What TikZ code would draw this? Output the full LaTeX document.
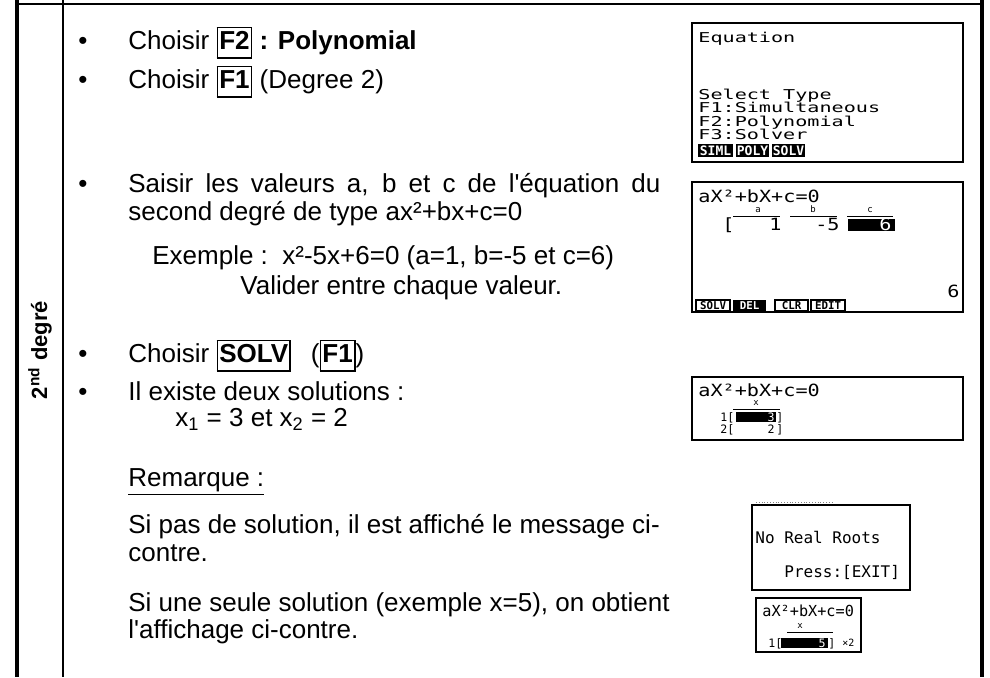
\documentclass[tikz,border=0pt]{standalone}
\usepackage{fontspec}
\setmainfont{Liberation Sans}[Ligatures=TeXOff]
\newfontfamily\lcd{DejaVu Sans Mono}[FakeStretch=1.2]
\newfontfamily\lcds{DejaVu Sans Mono}[FakeStretch=1.48]
\newfontfamily\lcdn{DejaVu Sans Mono}
\newcommand\kbox[1]{{\setlength\fboxsep{0.6pt}\setlength\fboxrule{0.8pt}\fbox{\rule[-0.27em]{0pt}{1.02em}\textbf{#1}}}}
\begin{document}
\begin{tikzpicture}[x=0.5pt,y=-0.5pt,
  txt/.style={anchor=base west, inner sep=0pt, font=\fontsize{13}{15.5}\selectfont},
  bul/.style={anchor=base, inner sep=0pt, font=\fontsize{13}{15.5}\selectfont},
  scr/.style={draw, line width=0.9pt},
  lcdt/.style={anchor=base west, inner sep=0pt, font=\lcd\fontsize{8.4}{8.4}\selectfont},
  lcds/.style={anchor=base west, inner sep=0pt, font=\lcds\fontsize{6.8}{6.8}\selectfont},
  lcdr/.style={anchor=base east, inner sep=0pt, font=\lcd\fontsize{8.4}{8.4}\selectfont},
  lcdw/.style={anchor=base east, inner sep=0pt, text=white, font=\lcd\fontsize{8.4}{8.4}\selectfont},
  rowt/.style={anchor=base west, inner sep=0pt, font=\lcdn\fontsize{5.8}{5.8}\selectfont},
  rowr/.style={anchor=base east, inner sep=0pt, font=\lcdn\fontsize{5.8}{5.8}\selectfont},
  tiny/.style={anchor=base, inner sep=0pt, font=\lcdn\fontsize{4.5}{4.5}\selectfont},
  keyb/.style={fill=black},
  keyt/.style={anchor=center, inner sep=0pt, text=white, font=\lcdn\bfseries\fontsize{6.5}{6.5}\selectfont},
  keyo/.style={draw, line width=0.6pt},
  keyk/.style={anchor=center, inner sep=0pt, font=\lcdn\bfseries\fontsize{5.4}{5.4}\selectfont},
  msg/.style={anchor=base west, inner sep=0pt, font=\lcdn\fontsize{8}{8}\selectfont},
  sm/.style={anchor=base west, inner sep=0pt, font=\lcdn\fontsize{7.6}{7.6}\selectfont},
  rule/.style={line width=0.5pt}]
\useasboundingbox (0,0) rectangle (990,677);
% table frame
\draw[line width=2pt] (17,0) -- (17,677);
\draw[line width=2pt] (982,0) -- (982,677);
\draw[line width=1pt] (63,0) -- (63,677);
\draw[line width=1pt] (17,4) -- (982,4);
\node[rotate=90, inner sep=0pt, font=\bfseries\fontsize{11}{13}\selectfont] (lab) at (40,350) {2\textsuperscript{nd} degré};

% left text
\node[bul] (b1) at (83,49) {•};
\node[txt] (t1) at (128,49) {Choisir \kbox{F2} \textbf{: Polynomial}};
\node[bul] (b2) at (83,88) {•};
\node[txt] (t2) at (128,88) {Choisir \kbox{F1} (Degree 2)};
\node[bul] (b3) at (83,192) {•};
\node[txt] (t3) at (128,192) {\makebox[266pt][s]{Saisir les valeurs a, b et c de l'équation du}};
\node[txt] (t4) at (128,220) {second degré de type ax²+bx+c=0};
\node[txt] (t5) at (152,264) {Exemple :\ \ x²-5x+6=0 (a=1, b=-5 et c=6)};
\node[txt] (t6) at (240,294) {Valider entre chaque valeur.};
\node[bul] (b4) at (83,362) {•};
\node[txt] (t7) at (128,362) {Choisir \kbox{SOLV}\hspace{10pt}(\kbox{F1})};
\node[bul] (b5) at (83,400) {•};
\node[txt] (t8) at (128,400) {Il existe deux solutions :};
\node[txt] (t9) at (175,426) {x\textsubscript{1} = 3 et x\textsubscript{2} = 2};
\node[txt] (t10) at (128,486) {\underline{Remarque :}};
\node[txt] (t11) at (128,533) {Si pas de solution, il est affiché le message ci-};
\node[txt] (t12) at (128,561) {contre.};
\node[txt] (t13) at (128,611) {Si une seule solution (exemple x=5), on obtient};
\node[txt] (t14) at (128,638) {l'affichage ci-contre.};

% screen 1
\draw[scr] (692,23) rectangle (963,162);
\node[lcds] (s1a) at (698,42) {Equation};
\node[lcds] (s1b) at (698,99) {Select Type};
\node[lcds] (s1c) at (698,112.5) {F1:Simultaneous};
\node[lcds] (s1d) at (698,126) {F2:Polynomial};
\node[lcds] (s1e) at (698,139.5) {F3:Solver};
\fill[keyb] (698,144) rectangle (733,157);
\fill[keyb] (736,144) rectangle (769,157);
\fill[keyb] (772,144) rectangle (805,157);
\node[keyt] (k1) at (715.5,150.5) {SIML};
\node[keyt] (k2) at (752.5,150.5) {POLY};
\node[keyt] (k3) at (788.5,150.5) {SOLV};

% screen 2
\draw[scr] (692,182) rectangle (963,312);
\node[lcdt] (s2a) at (698,202) {aX²+bX+c=0};
\node[tiny] (la) at (758,212) {a};
\node[tiny] (lb) at (813,212) {b};
\node[tiny] (lc) at (870,212) {c};
\draw[rule] (733,216) -- (780,216);
\draw[rule] (790,216) -- (837,216);
\draw[rule] (847,216) -- (893,216);
\node[lcdt] (br) at (722,230) {[};
\node[lcdr] (v1) at (782,230) {1};
\node[lcdr] (v2) at (840,230) {-5};
\fill (848,219) rectangle (895,231);
\node[lcdw] (v3) at (892,230) {6};
\node[lcdr] (v4) at (960,297) {6};
\draw[keyo] (696,300) rectangle (730,311);
\fill[keyb] (733,300) rectangle (766,311);
\draw[keyo] (775,300) rectangle (808,311);
\draw[keyo] (811,300) rectangle (845,311);
\node[keyk] (k4) at (713,305.5) {SOLV};
\node[keyt, font=\lcdn\bfseries\fontsize{5.4}{5.4}\selectfont] (k5) at (749.5,305.5) {DEL};
\node[keyk] (k6) at (791.5,305.5) {CLR};
\node[keyk] (k7) at (828,305.5) {EDIT};

% screen 3
\draw[scr] (692,377) rectangle (963,440);
\node[lcdt] (s3a) at (698,396) {aX²+bX+c=0};
\node[tiny] (lx) at (756,405) {x};
\draw[rule] (733,409) -- (780,409);
\node[rowt] (r1) at (720,421) {1[};
\fill (736,412) rectangle (776,422);
\node[rowr, text=white] (r1v) at (775,421) {3};
\node[rowt] (r1e) at (776,421) {]};
\node[rowt] (r2) at (720,433) {2[};
\node[rowr] (r2v) at (775,433) {2};
\node[rowt] (r2e) at (776,433) {]};

% no real roots
\draw[densely dotted, gray] (756,502) -- (832,502);
\draw[line width=1pt] (752,505) rectangle (910,590);
\node[msg] (m1) at (755,543) {No Real Roots};
\node[msg] (m2) at (784,577) {Press:[EXIT]};

% screen 5
\draw[scr] (756,598) rectangle (861,652);
\node[sm] (s5a) at (762,616) {aX²+bX+c=0};
\node[tiny] (lx2) at (800,628) {x};
\draw[rule] (787,632) -- (833,632);
\node[rowt] (q1) at (768,647) {1[};
\fill (781,638) rectangle (828,648);
\node[rowr, text=white] (q2) at (826,647) {5};
\node[rowt] (q3) at (828,647) {]};
\node[anchor=base west, inner sep=0pt, font=\lcdn\fontsize{5}{5}\selectfont] (q4) at (842,646) {×2};
\end{tikzpicture}
\end{document}
